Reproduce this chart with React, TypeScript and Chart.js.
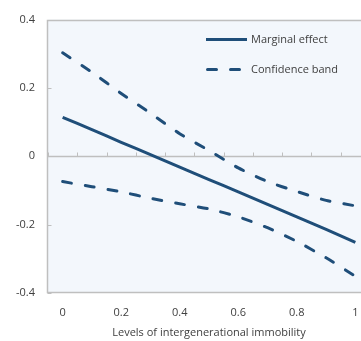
import React, { useEffect, useRef } from 'react';
import { Chart, registerables } from 'chart.js';

Chart.register(...registerables);

const categories = ['0', '0.1', '0.2', '0.3', '0.4', '0.5', '0.6', '0.7', '0.8', '0.9', '1'];
const marginalEffect = [0.114, 0.078, 0.041, 0.005, -0.032, -0.068, -0.104, -0.141, -0.177, -0.214, -0.252];
const upperBand = [0.303, 0.246, 0.184, 0.126, 0.066, 0.017, -0.034, -0.074, -0.103, -0.129, -0.145];
const lowerBand = [-0.074, -0.089, -0.104, -0.123, -0.139, -0.154, -0.177, -0.209, -0.249, -0.297, -0.351];
const yTicks = [-0.4, -0.2, 0, 0.2, 0.4];
const xTitle = 'Levels of intergenerational immobility';
const legendLabels = ['Marginal effect', 'Confidence band'];

const FONT = '"Open Sans", "Noto Sans", sans-serif';
const LINE = '#1F4E79';
const TEXT = '#404040';
const AXIS = '#BFBFBF';
const PLOT_BG = '#F3F7FC';

const framePlugin = {
  id: 'frame',
  beforeDraw(chart: any) {
    const { ctx, chartArea: a } = chart;
    ctx.save();
    ctx.fillStyle = PLOT_BG;
    ctx.fillRect(a.left, a.top, a.right - a.left, a.bottom - a.top);
    ctx.restore();
  },
  beforeDatasetsDraw(chart: any) {
    const { ctx, chartArea: a, scales } = chart;
    const x = scales.x;
    const y = scales.y;
    ctx.save();
    ctx.strokeStyle = AXIS;
    ctx.lineWidth = 1.5;
    const l = Math.round(a.left) - 0.5;
    const t = Math.round(a.top) + 0.5;
    const b = Math.round(a.bottom) - 0.5;
    // plot border: top, left, bottom, right
    ctx.beginPath();
    ctx.moveTo(a.right, t);
    ctx.lineTo(l, t);
    ctx.lineTo(l, b);
    ctx.lineTo(a.right, b);
    ctx.lineTo(a.right, t);
    ctx.stroke();
    // inner y ticks
    ctx.lineWidth = 1;
    yTicks.forEach((v) => {
      const py = Math.round(y.getPixelForValue(v)) + 0.5;
      ctx.beginPath();
      ctx.moveTo(l, py);
      ctx.lineTo(l + 4, py);
      ctx.stroke();
    });
    // zero line with category-boundary ticks
    const y0 = Math.round(y.getPixelForValue(0)) + 0.5;
    ctx.lineWidth = 1.5;
    ctx.beginPath();
    ctx.moveTo(l, y0);
    ctx.lineTo(a.right, y0);
    ctx.stroke();
    const step = x.getPixelForValue(1) - x.getPixelForValue(0);
    ctx.lineWidth = 1;
    for (let i = 0; i <= categories.length; i++) {
      const px = Math.round(x.getPixelForValue(i) - step / 2) + 0.5;
      ctx.beginPath();
      ctx.moveTo(px, y0);
      ctx.lineTo(px, y0 - 4);
      ctx.stroke();
    }
    ctx.restore();
  },
  afterDraw(chart: any) {
    const { ctx, chartArea: a } = chart;
    ctx.save();
    const x0 = a.left + 158;
    const rows = [a.top + 20, a.top + 50];
    legendLabels.forEach((label, i) => {
      const ds = chart.data.datasets[i];
      const yy = rows[i];
      ctx.strokeStyle = ds.borderColor;
      ctx.lineWidth = ds.borderWidth;
      ctx.lineCap = i === 0 ? 'butt' : 'round';
      ctx.setLineDash(ds.borderDash || []);
      ctx.beginPath();
      ctx.moveTo(x0 + (i === 0 ? 0 : 1.5), yy);
      ctx.lineTo(x0 + (i === 0 ? 41 : 37), yy);
      ctx.stroke();
      ctx.setLineDash([]);
      ctx.fillStyle = TEXT;
      ctx.font = `11px ${FONT}`;
      ctx.textBaseline = 'middle';
      ctx.textAlign = 'left';
      ctx.fillText(label, x0 + 45, yy);
    });
    ctx.restore();
  },
};

export default function App() {
  const ref = useRef<HTMLCanvasElement>(null);

  useEffect(() => {
    if (!ref.current) return;
    const chart = new Chart(ref.current, {
      type: 'line',
      data: {
        labels: categories,
        datasets: [
          {
            label: legendLabels[0],
            data: marginalEffect,
            borderColor: LINE,
            borderWidth: 3,
            pointRadius: 0,
            fill: false,
            tension: 0.2,
          },
          {
            label: legendLabels[1],
            data: upperBand,
            borderColor: LINE,
            borderWidth: 3,
            borderDash: [9, 14],
            borderCapStyle: 'round',
            pointRadius: 0,
            fill: false,
            tension: 0.2,
          },
          {
            label: legendLabels[1],
            data: lowerBand,
            borderColor: LINE,
            borderWidth: 3,
            borderDash: [9, 14],
            borderCapStyle: 'round',
            pointRadius: 0,
            fill: false,
            tension: 0.2,
          },
        ],
      },
      options: {
        responsive: false,
        animation: false,
        devicePixelRatio: 1,
        layout: { padding: { top: 13, right: 2, left: 0, bottom: 0 } },
        plugins: { legend: { display: false }, tooltip: { enabled: false } },
        scales: {
          x: {
            type: 'category',
            offset: true,
            grid: { display: false, drawTicks: false },
            border: { display: false },
            ticks: {
              autoSkip: false,
              maxRotation: 0,
              padding: 13,
              color: TEXT,
              font: { family: FONT, size: 11 },
              callback: (_v: any, i: number) => (i % 2 === 0 ? categories[i] : ''),
            },
            title: {
              display: true,
              text: xTitle,
              color: TEXT,
              font: { family: FONT, size: 11 },
              padding: { top: 4, bottom: 2 },
            },
            afterFit: (s: any) => {
              s.height = 48;
            },
          },
          y: {
            min: -0.4,
            max: 0.4,
            afterBuildTicks: (s: any) => {
              s.ticks = yTicks.map((v) => ({ value: v }));
            },
            grid: { display: false, drawTicks: false },
            border: { display: false },
            ticks: {
              padding: 13,
              color: TEXT,
              font: { family: FONT, size: 11 },
              callback: (v: any) => String(Number(Number(v).toFixed(1))),
            },
            afterFit: (s: any) => {
              s.width = 48;
            },
          },
        },
      },
      plugins: [framePlugin],
    });
    return () => chart.destroy();
  }, []);

  return (
    <div
      style={{
        position: 'fixed',
        left: 0,
        top: 0,
        width: 361,
        height: 341,
        overflow: 'hidden',
        background: '#fff',
      }}
    >
      <canvas ref={ref} width={372} height={341} style={{ display: 'block' }} />
    </div>
  );
}
